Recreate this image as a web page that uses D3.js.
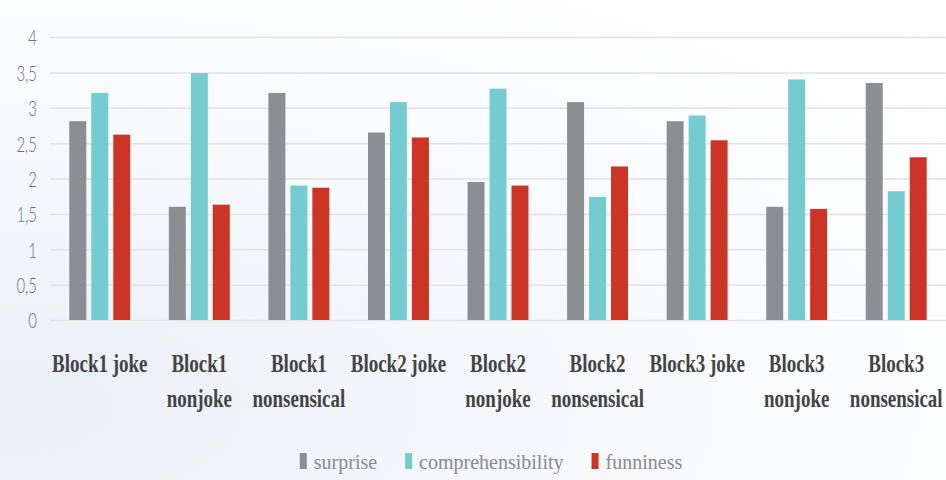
<!DOCTYPE html>
<html>
<head>
<meta charset="utf-8">
<script src="https://cdn.jsdelivr.net/npm/d3@7"></script>
<style>
  html, body { margin: 0; padding: 0; }
  body {
    width: 946px; height: 480px; overflow: hidden;
    background: radial-gradient(ellipse at 0% 85%, #e8eff6 0%, #f4f7fa 35%, #fbfcfd 65%, #ffffff 100%);
  }
  .yaxis text { font-family: Lato, "Liberation Sans", sans-serif; font-weight: 300; font-size: 22px; fill: #707070; }
  .xlab { font-family: "Liberation Serif", serif; font-weight: bold; font-size: 26px; fill: #444444; }
  .legend text { font-family: "Liberation Serif", serif; font-size: 20px; fill: #8a8a8a; }
</style>
</head>
<body>
<script>
// Categories and series
var categories = ["Block1 joke", "Block1 nonjoke", "Block1 nonsensical",
                  "Block2 joke", "Block2 nonjoke", "Block2 nonsensical",
                  "Block3 joke", "Block3 nonjoke", "Block3 nonsensical"];
var seriesNames = ["surprise", "comprehensibility", "funniness"];
var seriesColors = ["#8c8f92", "#74cbd0", "#cc3426"];

var surprise          = [2.81, 1.60, 3.21, 2.65, 1.95, 3.08, 2.81, 1.60, 3.35];
var comprehensibility = [3.21, 3.49, 1.90, 3.08, 3.27, 1.74, 2.89, 3.40, 1.82];
var funniness         = [2.62, 1.63, 1.87, 2.58, 1.90, 2.17, 2.54, 1.57, 2.30];
var yTicks = [0, 0.5, 1, 1.5, 2, 2.5, 3, 3.5, 4];

var values = [surprise, comprehensibility, funniness];

// Set size and plot area
var width = 946, height = 480;
var plot = {left: 50, right: 946, top: 37, bottom: 320};

var svg = d3.select("body").append("svg")
            .attr("width", width)
            .attr("height", height);

// Scales
var x0 = d3.scaleBand()
           .domain(categories)
           .range([plot.left, plot.right])
           .paddingInner(0.388)
           .paddingOuter(0.194);

var x1 = d3.scaleBand()
           .domain(seriesNames)
           .range([0, x0.bandwidth()])
           .paddingInner(0.227);

var y = d3.scaleLinear()
          .domain([0, 4])
          .range([plot.bottom, plot.top]);

// Gridlines and y labels
var ySqueeze = 0.68;
var yAxis = d3.axisLeft(y)
              .tickValues(yTicks)
              .tickSize(-(plot.right - plot.left))
              .tickFormat(function(d) { return String(d).replace(".", ","); });

var yg = svg.append("g")
    .attr("class", "yaxis")
    .attr("transform", "translate(" + plot.left + ",0)")
    .call(yAxis);
yg.select(".domain").remove();
yg.selectAll(".tick line").attr("stroke", "#e2e2e2").attr("stroke-width", 1.5);
yg.selectAll(".tick text")
    .attr("x", -13 / ySqueeze)
    .attr("dy", "0.36em")
    .attr("transform", "scale(" + ySqueeze + ",1)");

// Bars
var groups = svg.append("g").selectAll("g")
    .data(categories)
    .enter()
    .append("g")
    .attr("transform", function(d) { return "translate(" + x0(d) + ",0)"; });

groups.selectAll("rect")
    .data(function(d, i) {
      return seriesNames.map(function(s, j) { return {series: s, value: values[j][i], color: seriesColors[j]}; });
    })
    .enter()
    .append("rect")
    .attr("x", function(d) { return x1(d.series); })
    .attr("y", function(d) { return y(d.value); })
    .attr("width", x1.bandwidth())
    .attr("height", function(d) { return y(0) - y(d.value); })
    .attr("fill", function(d) { return d.color; });

// Category labels, wrapped when wider than the band step
var squeeze = 0.73;
var step = x0.step();
categories.forEach(function(cat) {
  var g = svg.append("g")
      .attr("transform", "translate(" + (x0(cat) + x0.bandwidth() / 2) + ",372)");
  var t = g.append("text").attr("class", "xlab")
      .attr("text-anchor", "middle")
      .attr("transform", "scale(" + squeeze + ",1)")
      .text(cat);
  if (t.node().getComputedTextLength() * squeeze > step - 1) {
    var words = cat.split(" ");
    t.text(null);
    t.append("tspan").attr("x", 0).attr("y", 0).text(words[0]);
    t.append("tspan").attr("x", 0).attr("y", 35).text(words.slice(1).join(" "));
  }
});

// Legend
var legend = svg.append("g").attr("class", "legend");
var lx = 0;
seriesNames.forEach(function(s, i) {
  var item = legend.append("g").attr("transform", "translate(" + lx + ",0)");
  item.append("rect").attr("x", 0).attr("y", -16).attr("width", 7).attr("height", 16)
      .attr("fill", seriesColors[i]);
  var txt = item.append("text").attr("x", 14).attr("y", 0).text(s);
  lx += 14 + txt.node().getComputedTextLength() + 28;
});
var legendWidth = lx - 28;
legend.attr("transform", "translate(" + (491 - legendWidth / 2) + ",469)");
</script>
</body>
</html>
